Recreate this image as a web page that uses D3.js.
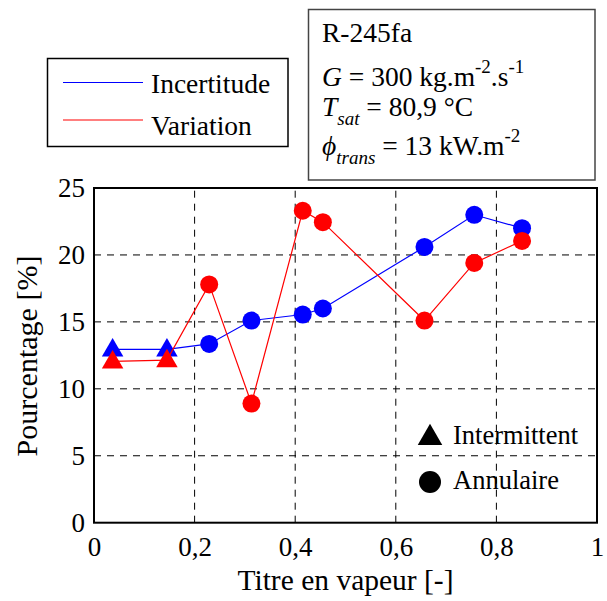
<!DOCTYPE html>
<html>
<head>
<meta charset="utf-8">
<script src="https://cdn.jsdelivr.net/npm/d3@7"></script>
</head>
<body style="margin:0;padding:0;background:#fff">
<div id="chart"></div>
<script>
// ---- data ----
const titre = [0.037, 0.145, 0.229, 0.313, 0.415, 0.455, 0.657, 0.756, 0.851];
const regime = ["Intermittent", "Intermittent", "Annulaire", "Annulaire", "Annulaire", "Annulaire", "Annulaire", "Annulaire", "Annulaire"];
const incertitude = [12.95, 12.95, 13.35, 15.1, 15.55, 16.0, 20.6, 23.0, 22.0];
const variation = [12.05, 12.15, 17.8, 8.9, 23.3, 22.45, 15.1, 19.4, 21.05];
const xTicks = [0, 0.2, 0.4, 0.6, 0.8, 1];
const xTickLabels = ["0", "0,2", "0,4", "0,6", "0,8", "1"];
const yTicks = [0, 5, 10, 15, 20, 25];
const seriesNames = ["Incertitude", "Variation"];
const seriesColors = ["#0000ff", "#ff0000"];
const markerNames = ["Intermittent", "Annulaire"];

const FONT = "'Liberation Serif', 'Times New Roman', Times, serif";
const W = 607, H = 601;
const svg = d3.select("#chart").append("svg").attr("width", W).attr("height", H)
  .style("display", "block").style("font-family", FONT);

const x = d3.scaleLinear().domain([0, 1]).range([94, 597]);
const y = d3.scaleLinear().domain([0, 25]).range([522.7, 188]);

function txt(sel) { return sel.style("font-family", FONT).attr("fill", "#000"); }

// grid
const grid = svg.append("g");
grid.selectAll("line.gx").data(xTicks.slice(1, -1)).enter().append("line")
  .attr("x1", d => x(d)).attr("x2", d => x(d))
  .attr("y1", y(0)).attr("y2", y(25))
  .attr("stroke", "#000").attr("stroke-width", 1).attr("stroke-dasharray", "7,6");
grid.selectAll("line.gy").data(yTicks.slice(1, -1)).enter().append("line")
  .attr("x1", x(0)).attr("x2", x(1))
  .attr("y1", d => y(d)).attr("y2", d => y(d))
  .attr("stroke", "#000").attr("stroke-width", 1).attr("stroke-dasharray", "7,6");

// tick labels via d3 axes
const xAxis = d3.axisBottom(x).tickValues(xTicks).tickFormat((d, i) => xTickLabels[i]).tickSize(0).tickPadding(14);
const gx = svg.append("g").attr("transform", `translate(0,${y(0)})`).call(xAxis);
gx.attr("font-family", null).attr("font-size", null);
gx.select(".domain").remove();
txt(gx.selectAll("text")).style("font-size", "27px");

const yAxis = d3.axisLeft(y).tickValues(yTicks).tickSize(0).tickPadding(9);
const gy = svg.append("g").attr("transform", `translate(${x(0)},0)`).call(yAxis);
gy.attr("font-family", null).attr("font-size", null);
gy.select(".domain").remove();
txt(gy.selectAll("text")).style("font-size", "27px");

// series
const seriesData = [incertitude, variation];
const line = d3.line().x(d => x(d[0])).y(d => y(d[1]));
const tri = d3.symbol().type(d3.symbolTriangle).size(200);

seriesData.forEach((vals, si) => {
  const pts = titre.map((t, i) => [t, vals[i], regime[i]]);
  svg.append("path").datum(pts).attr("d", line)
    .attr("fill", "none").attr("stroke", seriesColors[si]).attr("stroke-width", 1.2);
  const g = svg.append("g");
  pts.forEach(p => {
    if (p[2] === "Intermittent") {
      g.append("path").attr("d", tri())
        .attr("transform", `translate(${x(p[0])},${y(p[1]) + 1})`)
        .attr("fill", seriesColors[si]);
    } else {
      g.append("circle").attr("cx", x(p[0])).attr("cy", y(p[1])).attr("r", 9)
        .attr("fill", seriesColors[si]);
    }
  });
});

// plot frame
svg.append("rect").attr("x", x(0)).attr("y", y(25))
  .attr("width", x(1) - x(0)).attr("height", y(0) - y(25))
  .attr("fill", "none").attr("stroke", "#000").attr("stroke-width", 2);

// axis titles
txt(svg.append("text")).attr("x", (x(0) + x(1)) / 2).attr("y", 590)
  .attr("text-anchor", "middle").style("font-size", "29.5px").text("Titre en vapeur [-]");
txt(svg.append("text")).attr("transform", `translate(37,356) rotate(-90)`)
  .attr("text-anchor", "middle").style("font-size", "30px").text("Pourcentage [%]");

// marker legend
const mk = svg.append("g");
mk.append("path").attr("d", d3.symbol().type(d3.symbolTriangle).size(260)()).attr("transform", "translate(430,438)").attr("fill", "#000");
txt(mk.append("text")).attr("x", 453).attr("y", 444).style("font-size", "26.5px").text(markerNames[0]);
mk.append("circle").attr("cx", 430).attr("cy", 482).attr("r", 11).attr("fill", "#000");
txt(mk.append("text")).attr("x", 453).attr("y", 489).style("font-size", "26.5px").text(markerNames[1]);

// series legend
const lg = svg.append("g");
lg.append("rect").attr("x", 47.5).attr("y", 58.5).attr("width", 240.5).attr("height", 88)
  .attr("fill", "#fff").attr("stroke", "#000").attr("stroke-width", 1.5);
seriesNames.forEach((n, i) => {
  const yy = [82.5, 120][i];
  lg.append("line").attr("x1", 63).attr("x2", 143).attr("y1", yy).attr("y2", yy)
    .attr("stroke", seriesColors[i]).attr("stroke-width", 1.2);
  txt(lg.append("text")).attr("x", 151).attr("y", [93, 135][i]).style("font-size", "27.5px").text(n);
});

// annotation box
const an = svg.append("g");
an.append("rect").attr("x", 308.5).attr("y", 9.5).attr("width", 286.5).attr("height", 170.5)
  .attr("fill", "#fff").attr("stroke", "#444").attr("stroke-width", 1.5);
const ax0 = 322;
txt(an.append("text")).attr("x", ax0).attr("y", 42).style("font-size", "27.5px").text("R-245fa");
const t2 = txt(an.append("text")).attr("x", ax0).attr("y", 86).style("font-size", "27.5px");
t2.append("tspan").style("font-style", "italic").text("G");
t2.append("tspan").text(" = 300 kg.m");
t2.append("tspan").style("font-size", "19px").attr("dy", -13).text("-2");
t2.append("tspan").attr("dy", 13).text(".s");
t2.append("tspan").style("font-size", "19px").attr("dy", -13).text("-1");
const t3 = txt(an.append("text")).attr("x", ax0).attr("y", 116).style("font-size", "27.5px");
t3.append("tspan").style("font-style", "italic").text("T");
t3.append("tspan").style("font-style", "italic").style("font-size", "19px").attr("dy", 9).text("sat");
t3.append("tspan").attr("dy", -9).text(" = 80,9 °C");
const t4 = txt(an.append("text")).attr("x", ax0).attr("y", 155).style("font-size", "27.5px");
t4.append("tspan").style("font-style", "italic").text("ϕ");
t4.append("tspan").style("font-style", "italic").style("font-size", "19px").attr("dy", 9).text("trans");
t4.append("tspan").attr("dy", -9).text(" = 13 kW.m");
t4.append("tspan").style("font-size", "19px").attr("dy", -13).text("-2");
</script>
</body>
</html>
